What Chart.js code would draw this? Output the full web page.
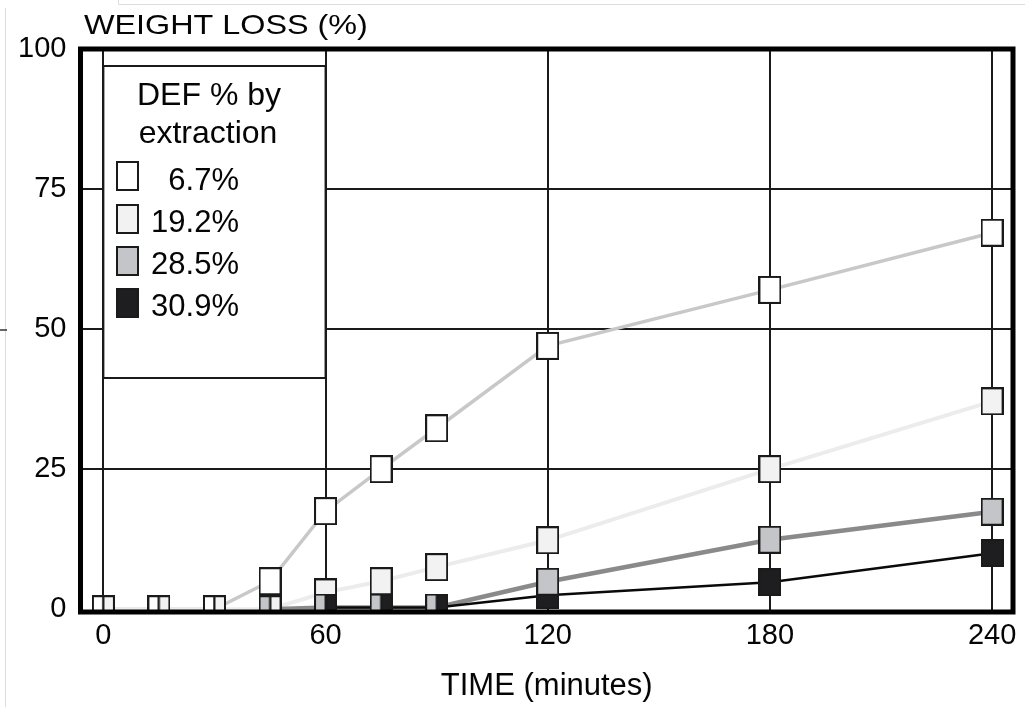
<!DOCTYPE html>
<html><head><meta charset="utf-8">
<script src="https://cdn.jsdelivr.net/npm/chart.js@4.4.1/dist/chart.umd.min.js"></script>
<style>html,body{margin:0;padding:0;background:#fff;}#wrap{position:relative;width:1025px;height:707px;}</style>
</head><body><div id="wrap"><canvas id="c" width="1025" height="707"></canvas></div>
<script>
// ---- data ----
const xTicks = [0, 60, 120, 180, 240];
const yTicks = [0, 25, 50, 75, 100];
const seriesLabels = ['6.7%', '19.2%', '28.5%', '30.9%'];
const times1 = [0, 15, 30, 45, 60, 75, 90, 120, 180, 240];
const loss1  = [0, 0, 0, 5, 17.5, 25, 32.3, 47, 57, 67.2];
const times2 = [0, 15, 30, 45, 60, 75, 90, 120, 180, 240];
const loss2  = [0, 0, 0, 0, 3, 5, 7.5, 12.3, 25, 37.1];
const times3 = [45, 60, 75, 90, 120, 180, 240];
const loss3  = [0, 0.3, 0.3, 0.3, 4.9, 12.4, 17.4];
const times4 = [60, 75, 90, 120, 180, 240];
const loss4  = [0.3, 0.3, 0.3, 2.5, 4.8, 10];

const FONT = '"Liberation Sans", Arial, Helvetica, sans-serif';
const TEXT = '#050505';
const allTimes = [times1, times2, times3, times4];
const allLoss = [loss1, loss2, loss3, loss4];
const fills = ['#ffffff', '#f2f2f2', '#c3c5c8', '#1e1e20'];
const lineColors = ['#c8c8c8', '#ececec', '#8a8a8a', '#0a0a0a'];
const lineWidths = [3.5, 4, 4.5, 2.5];
const markerOrder = [3, 2, 0, 1];   // drawing order (lower = on top)
const lineOrder = [13, 12, 11, 10];
const sidePriority = [0, 2, 1, 3];  // which series takes the left half at shared baseline points

function makeMarker(fill, part) {
  const c = document.createElement('canvas');
  c.width = 23; c.height = 28;
  const g = c.getContext('2d');
  g.lineWidth = 2; g.strokeStyle = '#1a1a1a'; g.fillStyle = fill;
  let x0 = 1, w = 21;
  if (part === 'L') { x0 = 1; w = 10.5; }
  if (part === 'R') { x0 = 11.5; w = 10.5; }
  g.fillRect(x0, 1, w, 26);
  g.strokeRect(x0, 1, w, 26);
  return c;
}
const markers = fills.map(f => ({F: makeMarker(f, 'F'), L: makeMarker(f, 'L'), R: makeMarker(f, 'R')}));

function partFor(k, i) {
  const t = allTimes[k][i], v = allLoss[k][i];
  if (v > 0.5) return 'F';
  const group = [k];
  for (let j = 0; j < 4; j++) {
    if (j === k) continue;
    const idx = allTimes[j].indexOf(t);
    if (idx >= 0 && allLoss[j][idx] <= 0.5) group.push(j);
  }
  if (group.length < 2) return 'F';
  group.sort((a, b) => sidePriority.indexOf(a) - sidePriority.indexOf(b));
  return group[0] === k ? 'L' : 'R';
}

const datasets = [];
for (let k = 0; k < 4; k++) {
  const pts = allTimes[k].map((t, i) => ({x: t, y: allLoss[k][i]}));
  datasets.push({
    label: seriesLabels[k] + ' line', data: pts, showLine: true, pointRadius: 0,
    borderColor: lineColors[k], borderWidth: lineWidths[k], fill: false,
    order: lineOrder[k], clip: 0, tension: 0
  });
  datasets.push({
    label: seriesLabels[k], data: pts, showLine: false, pointRadius: 11,
    pointStyle: ctx => markers[k][partFor(k, ctx.dataIndex)],
    order: markerOrder[k], clip: 0
  });
}

const decor = {
  id: 'decor',
  beforeDatasetsDraw(chart) {
    const ctx = chart.ctx, xs = chart.scales.x;
    const l = xs.getPixelForValue(0), r = xs.getPixelForValue(60);
    ctx.save();
    ctx.fillStyle = '#fff';
    ctx.fillRect(l, 66, r - l, 312);
    ctx.strokeStyle = '#1a1a1a'; ctx.lineWidth = 2;
    ctx.strokeRect(l, 66, r - l, 312);
    ctx.fillStyle = TEXT;
    ctx.font = '32px ' + FONT; ctx.textAlign = 'center'; ctx.textBaseline = 'alphabetic';
    ctx.fillText('DEF % by', 209, 105);
    ctx.fillText('extraction', 208, 143);
    const tops = [162, 205, 247, 289];
    const bases = [189.5, 231.5, 273.5, 316];
    ctx.font = '31px ' + FONT; ctx.textAlign = 'right';
    for (let k = 0; k < 4; k++) {
      ctx.fillStyle = fills[k];
      ctx.fillRect(117, tops[k], 21, 28);
      ctx.strokeStyle = '#1a1a1a'; ctx.lineWidth = 2;
      ctx.strokeRect(117, tops[k], 21, 28);
      ctx.fillStyle = TEXT;
      ctx.fillText(seriesLabels[k], 239, bases[k]);
    }
    ctx.restore();
  },
  afterDatasetsDraw(chart) {
    const ctx = chart.ctx, a = chart.chartArea;
    ctx.save();
    ctx.strokeStyle = '#000'; ctx.lineWidth = 5;
    ctx.strokeRect(a.left, a.top, a.right - a.left, a.bottom - a.top);
    // title
    ctx.fillStyle = TEXT;
    ctx.font = '28px ' + FONT; ctx.textAlign = 'left'; ctx.textBaseline = 'alphabetic';
    ctx.translate(84, 34); ctx.scale(1.155, 1);
    ctx.fillText('WEIGHT LOSS (%)', 0, 0);
    ctx.restore();
    // faint scan edges
    ctx.save();
    ctx.strokeStyle = '#dcdcdc'; ctx.lineWidth = 1;
    ctx.beginPath();
    ctx.moveTo(5.5, 8); ctx.lineTo(5.5, 707);
    ctx.moveTo(118.5, 0); ctx.lineTo(118.5, 4.5); ctx.lineTo(1025, 4.5);
    ctx.stroke();
    ctx.strokeStyle = '#333'; ctx.lineWidth = 1.5;
    ctx.beginPath(); ctx.moveTo(0, 330); ctx.lineTo(7, 330); ctx.stroke();
    ctx.restore();
  }
};

new Chart(document.getElementById('c'), {
  type: 'scatter',
  data: {datasets},
  plugins: [decor],
  options: {
    responsive: false, animation: false, devicePixelRatio: 1,
    layout: {padding: {left: 0, right: 8, top: 49, bottom: 0}},
    plugins: {legend: {display: false}, tooltip: {enabled: false}, title: {display: false}},
    scales: {
      x: {
        type: 'linear', min: -6.18, max: 245.65,
        afterBuildTicks: s => { s.ticks = xTicks.map(v => ({value: v})); },
        afterFit: s => { s.height = 95; },
        grid: {color: '#1a1a1a', lineWidth: 2, drawTicks: false},
        border: {display: false},
        ticks: {color: TEXT, font: {family: FONT, size: 29}, padding: 7, maxRotation: 0, autoSkip: false},
        title: {display: true, text: 'TIME (minutes)', color: TEXT, font: {family: FONT, size: 31}, padding: {top: 0, bottom: 2}}
      },
      y: {
        type: 'linear', min: -0.5, max: 100,
        afterBuildTicks: s => { s.ticks = yTicks.map(v => ({value: v})); },
        afterFit: s => { s.width = 80.5; },
        grid: {color: c => (c.tick && c.tick.value > 0 && c.tick.value < 100) ? '#1a1a1a' : 'rgba(0,0,0,0)', lineWidth: 2, drawTicks: false},
        border: {display: false},
        ticks: {color: TEXT, font: {family: FONT, size: 29}, padding: 14}
      }
    }
  }
});
</script>
</body></html>
